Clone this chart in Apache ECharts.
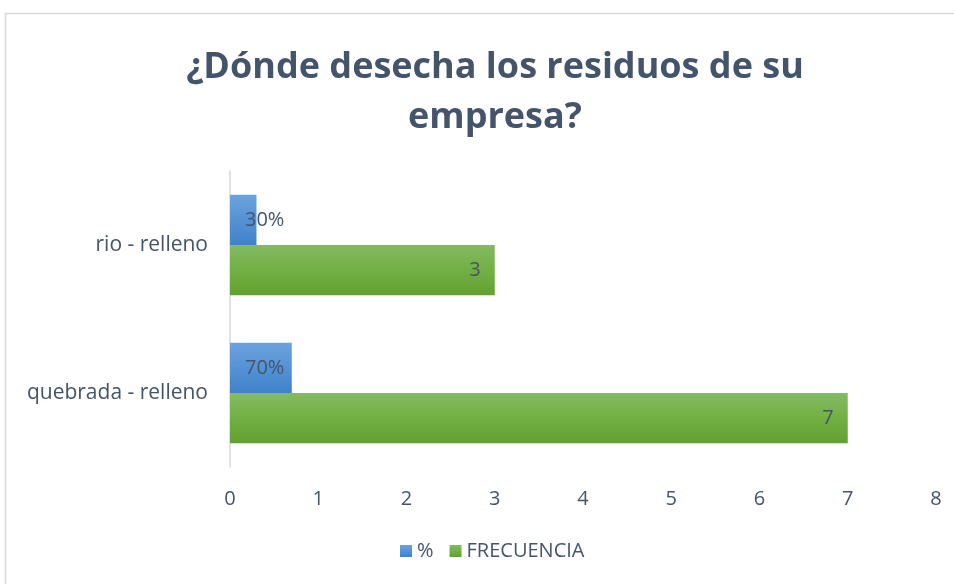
<!DOCTYPE html>
<html>
<head>
<meta charset="utf-8">
<script src="https://cdn.jsdelivr.net/npm/echarts@6/dist/echarts.min.js"></script>
<style>
  html, body { margin: 0; padding: 0; background: #fff; }
  #chart { width: 954px; height: 584px; }
</style>
</head>
<body>
<div id="chart"></div>
<script>
// datos del gráfico
const categorias = ['quebrada - relleno', 'rio - relleno']
const porcentaje = [0.7, 0.3]
const frecuencia = [7, 3]
const ejeX = { min: 0, max: 8, interval: 1 }

const textColor = '#44546a'
const fontFam = '"Open Sans", "Noto Sans", sans-serif'

const chart = echarts.init(document.getElementById('chart'))

const option = {
  backgroundColor: '#fff',
  animation: false,
  title: {
    text: '¿Dónde desecha los residuos de su\nempresa?',
    left: 490,
    top: 38,
    textAlign: 'center',
    textStyle: {
      color: textColor,
      fontFamily: fontFam,
      fontWeight: 'bold',
      fontSize: 36,
      lineHeight: 50
    }
  },
  graphic: [
    {
      type: 'rect',
      shape: { x: 5.5, y: 13.5, width: 1000, height: 600 },
      style: { fill: 'none', stroke: '#d9d9d9', lineWidth: 1.5 },
      silent: true
    }
  ],
  legend: {
    data: ['%', 'FRECUENCIA'],
    bottom: 18,
    left: 395,
    itemWidth: 12,
    itemHeight: 12,
    itemGap: 16,
    icon: 'rect',
    textStyle: { color: textColor, fontFamily: fontFam, fontSize: 20 }
  },
  grid: { left: 230, right: 18, top: 171, bottom: 117 },
  xAxis: {
    type: 'value',
    min: ejeX.min,
    max: ejeX.max,
    interval: ejeX.interval,
    axisLine: { show: false },
    axisTick: { show: false },
    splitLine: { show: false },
    axisLabel: { color: textColor, fontFamily: fontFam, fontSize: 20, margin: 22 }
  },
  yAxis: {
    type: 'category',
    data: categorias,
    axisLine: { show: true, lineStyle: { color: '#d9d9d9', width: 1.5 } },
    axisTick: { show: false },
    axisLabel: { color: textColor, fontFamily: fontFam, fontSize: 21, margin: 22 }
  },
  series: [
    {
      name: '%',
      type: 'bar',
      data: porcentaje,
      barGap: '0%',
      barCategoryGap: '32%',
      itemStyle: {
        color: new echarts.graphic.LinearGradient(0, 0, 0, 1, [
          { offset: 0, color: '#6ca2dd' },
          { offset: 0.5, color: '#5592d5' },
          { offset: 1, color: '#3f82c9' }
        ])
      },
      label: {
        show: true,
        position: [15, '50%'],
        verticalAlign: 'middle',
        color: textColor,
        fontFamily: fontFam,
        fontSize: 20,
        formatter: p => Math.round(p.value * 100) + '%'
      }
    },
    {
      name: 'FRECUENCIA',
      type: 'bar',
      data: frecuencia,
      barGap: '0%',
      barCategoryGap: '32%',
      itemStyle: {
        color: new echarts.graphic.LinearGradient(0, 0, 0, 1, [
          { offset: 0, color: '#84ba64' },
          { offset: 0.5, color: '#72b043' },
          { offset: 1, color: '#62a032' }
        ])
      },
      label: {
        show: true,
        position: 'insideRight',
        distance: 14,
        color: textColor,
        fontFamily: fontFam,
        fontSize: 20
      }
    }
  ]
}

chart.setOption(option)
</script>
</body>
</html>
